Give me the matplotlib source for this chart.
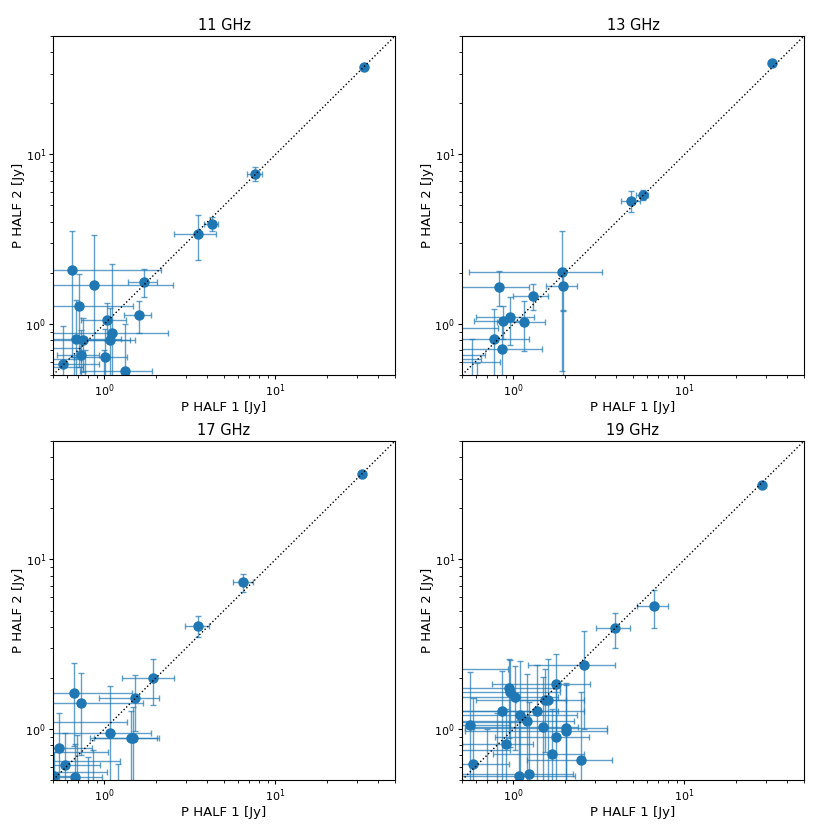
import matplotlib
matplotlib.use("Agg")
import matplotlib.pyplot as plt
import numpy as np

titles = ["11 GHz", "13 GHz", "17 GHz", "19 GHz"]
xlabel = "P HALF 1 [Jy]"
ylabel = "P HALF 2 [Jy]"
lims = (0.5, 50)

# 11 GHz
x11 = [33.0, 7.6, 4.24, 3.53, 1.71, 1.59, 0.65, 0.87, 0.71, 1.03, 1.10, 0.68, 0.75, 1.08, 0.73, 1.01, 0.57, 1.31,
       0.42, 0.45, 0.40, 0.66, 0.77, 1.00]
y11 = [33.0, 7.7, 3.90, 3.39, 1.77, 1.13, 2.09, 1.70, 1.27, 1.06, 0.88, 0.82, 0.80, 0.80, 0.66, 0.64, 0.58, 0.53,
       0.72, 0.62, 0.56, 0.42, 0.40, 0.35]
xe11 = [0.8, 0.75, 0.40, 0.98, 0.33, 0.29, 1.50, 1.65, 0.76, 0.30, 1.26, 0.57, 0.75, 0.33, 0.20, 0.35, 0.36, 0.59,
        0.30, 0.28, 0.35, 0.10, 0.06, 0.10]
ye11 = [0.8, 0.70, 0.38, 1.00, 0.33, 0.24, 1.45, 1.65, 0.71, 0.27, 1.39, 0.56, 0.28, 0.45, 0.26, 0.30, 0.39, 0.47,
        0.15, 0.10, 0.12, 0.22, 0.30, 0.35]

# 13 GHz
x13 = [32.6, 5.69, 4.87, 1.93, 1.95, 0.82, 1.30, 0.96, 0.867, 1.16, 0.77, 0.86,
       1.95, 0.45, 0.42, 0.40, 0.57, 0.61, 0.45]
y13 = [34.5, 5.78, 5.33, 2.03, 1.68, 1.66, 1.46, 1.095, 1.045, 1.03, 0.81, 0.71,
       0.30, 0.95, 0.66, 0.62, 0.45, 0.40, 0.60]
xe13 = [0.6, 0.45, 0.63, 1.38, 0.40, 0.42, 0.30, 0.36, 0.28, 0.36, 0.47, 0.60,
        0.30, 0.36, 0.26, 0.25, 0.10, 0.10, 0.38]
ye13 = [0.6, 0.40, 0.75, 1.50, 0.47, 0.39, 0.25, 0.34, 0.23, 0.34, 0.42, 0.30,
        0.90, 0.10, 0.05, 0.10, 0.36, 0.19, 0.05]

# 17 GHz
x17 = [32.0, 6.5, 3.53, 1.91, 1.51, 0.66, 0.73, 1.08, 1.42, 1.47, 0.54, 0.59, 0.67, 0.51,
       0.45, 0.42, 0.40, 0.44, 0.80, 0.86, 1.20, 0.69]
y17 = [32.0, 7.34, 4.07, 1.99, 1.53, 1.62, 1.42, 0.945, 0.88, 0.89, 0.77, 0.61, 0.52, 0.53,
       1.10, 0.73, 0.65, 0.56, 0.40, 0.35, 0.30, 0.40]
xe17 = [0.8, 0.88, 0.58, 0.64, 0.58, 0.78, 0.96, 0.80, 0.60, 0.60, 0.30, 0.35, 0.30, 0.15,
        0.90, 0.63, 0.83, 0.60, 0.20, 0.25, 0.30, 0.20]
ye17 = [0.8, 0.87, 0.56, 0.61, 0.56, 0.83, 0.72, 0.85, 0.40, 0.45, 0.48, 0.34, 0.30, 0.20,
        0.30, 0.10, 0.10, 0.10, 0.28, 0.40, 0.32, 0.52]

# 19 GHz
x19 = [28.3, 6.63, 3.93, 2.58, 1.77, 0.94, 0.96, 1.02, 1.53, 1.60, 0.86, 1.37, 1.09, 1.20, 0.56,
       1.49, 2.02, 2.02, 1.78, 0.90, 1.68, 2.48, 0.58, 1.07, 1.24,
       0.45, 0.42, 0.40, 0.70, 0.80]
y19 = [27.5, 5.28, 3.92, 2.38, 1.84, 1.74, 1.66, 1.55, 1.49, 1.49, 1.27, 1.27, 1.21, 1.12, 1.06,
       1.03, 1.02, 0.97, 0.90, 0.82, 0.71, 0.66, 0.62, 0.53, 0.54,
       2.27, 1.10, 0.75, 0.40, 0.35]
xe19 = [0.8, 1.35, 0.89, 1.36, 1.02, 0.93, 0.90, 0.80, 0.50, 1.00, 0.97, 1.20, 1.27, 1.06, 0.39,
        0.90, 1.50, 1.50, 1.00, 0.40, 0.92, 1.28, 0.36, 1.22, 1.00,
        0.48, 0.80, 0.55, 0.10, 0.15]
ye19 = [0.8, 1.34, 0.90, 1.38, 0.94, 0.86, 0.88, 0.80, 0.76, 1.10, 0.93, 1.10, 1.30, 1.00, 1.10,
        1.00, 0.80, 0.90, 0.90, 0.50, 0.60, 1.00, 0.90, 0.60, 0.90,
        0.10, 0.10, 0.10, 0.60, 0.90]

data = [(x11, y11, xe11, ye11), (x13, y13, xe13, ye13),
        (x17, y17, xe17, ye17), (x19, y19, xe19, ye19)]

W = H = 831
fig = plt.figure(figsize=(8.31, 8.31), dpi=100)
boxes = [(53, 36), (462, 36), (53, 441), (462, 441)]
aw, ah = 342, 339

blue = "#1f77b4"
for (px, py), title, (x, y, xe, ye) in zip(boxes, titles, data):
    ax = fig.add_axes([px / W, 1 - (py + ah) / H, aw / W, ah / H])
    ax.set_xscale("log")
    ax.set_yscale("log")
    ax.plot(lims, lims, "k:", lw=1, zorder=3)
    ax.errorbar(x, y, xerr=xe, yerr=ye, fmt="o", color=blue, ms=6.5,
                ecolor=(0.12, 0.47, 0.71, 0.7), elinewidth=1, capsize=2, capthick=1, zorder=2)
    ax.set_xlim(lims)
    ax.set_ylim(lims)
    ax.set_title(title, fontsize=10.5, pad=4)
    ax.set_xlabel(xlabel, fontsize=9.5, labelpad=2)
    ax.set_ylabel(ylabel, fontsize=9.5, labelpad=0)
    ax.tick_params(which="major", labelsize=8, length=3, pad=2)
    ax.tick_params(which="minor", length=2)

fig.savefig("out.png", dpi=100)
